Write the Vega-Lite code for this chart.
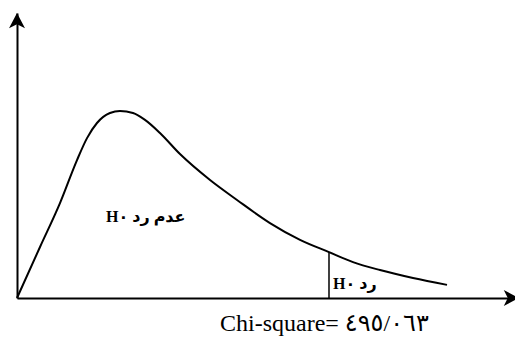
{
  "$schema": "https://vega.github.io/schema/vega-lite/v6.json",
  "width": 498,
  "height": 285,
  "autosize": {"type": "none"},
  "padding": {"left": 17, "top": 13, "right": 0, "bottom": 40},
  "background": "white",
  "config": {
    "view": {"stroke": null},
    "axis": {"domainColor": "black", "domainWidth": 2, "ticks": false, "labels": false, "grid": false, "title": null}
  },
  "datasets": {
    "curve": [
      {"x": 0, "y": 0},
      {"x": 0.462, "y": 0.179},
      {"x": 0.863, "y": 0.333},
      {"x": 1.205, "y": 0.484},
      {"x": 1.406, "y": 0.561},
      {"x": 1.606, "y": 0.614},
      {"x": 1.867, "y": 0.649},
      {"x": 2.068, "y": 0.656},
      {"x": 2.329, "y": 0.649},
      {"x": 2.57, "y": 0.625},
      {"x": 2.871, "y": 0.579},
      {"x": 3.273, "y": 0.505},
      {"x": 3.876, "y": 0.414},
      {"x": 4.418, "y": 0.344},
      {"x": 5.08, "y": 0.263},
      {"x": 5.683, "y": 0.204},
      {"x": 6.265, "y": 0.161},
      {"x": 6.747, "y": 0.126},
      {"x": 7.289, "y": 0.098},
      {"x": 7.952, "y": 0.07},
      {"x": 8.635, "y": 0.046}
    ],
    "critical": [{"x": 6.265, "y": 0, "y2": 0.161}],
    "arrows": [
      {"x": 0, "y": 1, "dir": "up"},
      {"x": 10.08, "y": 0, "dir": "right"}
    ],
    "regions": [
      {"x": 1.787, "y": 0.266, "label": "H٠\u200e عدم رد"},
      {"x": 6.345, "y": 0.033, "label": "H٠\u200e رد"}
    ],
    "stat": [{"x": 4.076, "y": -0.116, "label": "Chi-square= ٤٩٥/٠٦٣"}]
  },
  "layer": [
    {
      "data": {"name": "curve"},
      "mark": {"type": "line", "color": "black", "strokeWidth": 2, "interpolate": "monotone"},
      "encoding": {
        "x": {"field": "x", "type": "quantitative", "scale": {"domain": [0, 10], "nice": false, "zero": false}, "axis": {"orient": "bottom"}},
        "y": {"field": "y", "type": "quantitative", "scale": {"domain": [0, 1], "nice": false, "zero": false}, "axis": {"orient": "left"}}
      }
    },
    {
      "data": {"name": "critical"},
      "mark": {"type": "rule", "color": "black", "strokeWidth": 1.5},
      "encoding": {
        "x": {"field": "x", "type": "quantitative"},
        "y": {"field": "y", "type": "quantitative"},
        "y2": {"field": "y2"}
      }
    },
    {
      "data": {"name": "arrows"},
      "mark": {"type": "point", "filled": true, "color": "black", "opacity": 1, "size": 256, "strokeWidth": 0},
      "encoding": {
        "x": {"field": "x", "type": "quantitative"},
        "y": {"field": "y", "type": "quantitative"},
        "shape": {
          "field": "dir", "type": "nominal", "legend": null,
          "scale": {"domain": ["up", "right"], "range": ["M0,0 L-1,1.9 L0,1.4 L1,1.9 Z", "M0,0 L-1.9,-1 L-1.4,0 L-1.9,1 Z"]}
        }
      }
    },
    {
      "data": {"name": "regions"},
      "mark": {"type": "text", "font": "'Liberation Serif', 'DejaVu Sans'", "fontSize": 16, "fontWeight": "bold", "align": "left", "baseline": "alphabetic", "color": "black"},
      "encoding": {
        "x": {"field": "x", "type": "quantitative"},
        "y": {"field": "y", "type": "quantitative"},
        "text": {"field": "label"}
      }
    },
    {
      "data": {"name": "stat"},
      "mark": {"type": "text", "font": "'Liberation Serif', 'DejaVu Sans'", "fontSize": 24, "align": "left", "baseline": "alphabetic", "color": "black"},
      "encoding": {
        "x": {"field": "x", "type": "quantitative"},
        "y": {"field": "y", "type": "quantitative"},
        "text": {"field": "label"}
      }
    }
  ]
}
